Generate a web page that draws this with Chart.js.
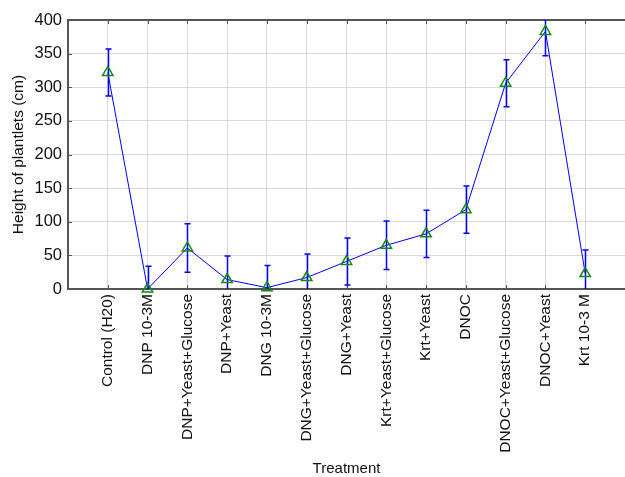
<!DOCTYPE html>
<html><head><meta charset="utf-8">
<script src="https://cdn.jsdelivr.net/npm/chart.js@4.4.1/dist/chart.umd.min.js"></script>
<style>html,body{margin:0;padding:0;background:#fff;}canvas{display:block;}</style>
</head><body>
<canvas id="c" width="625" height="477"></canvas>
<script>
// Plantlet height per treatment: mean and error-bar half width (cm)
const treatments = [
  'Control (H20)', 'DNP 10-3M', 'DNP+Yeast+Glucose', 'DNP+Yeast', 'DNG 10-3M',
  'DNG+Yeast+Glucose', 'DNG+Yeast', 'Krt+Yeast+Glucose', 'Krt+Yeast', 'DNOC',
  'DNOC+Yeast+Glucose', 'DNOC+Yeast', 'Krt 10-3 M'
];
const meanHeight = [322, 0, 61, 14, 2, 17, 41, 65, 82, 118, 306, 383, 23];
const errHeight  = [35, 34, 36, 35, 33, 35, 35, 36, 35, 35, 35, 36, 35];
const yTicks = [0, 50, 100, 150, 200, 250, 300, 350, 400];

const FONT = 'Liberation Sans, Arial, sans-serif';
const AXIS_DARK = '#555555';

const errorBars = {
  id: 'errorBars',
  beforeDatasetsDraw(chart) {
    const { ctx, chartArea: a, scales: { x, y } } = chart;
    ctx.save();
    // frame line along the top of the plot
    ctx.strokeStyle = AXIS_DARK;
    ctx.lineWidth = 2;
    ctx.beginPath();
    ctx.moveTo(a.left, a.top);
    ctx.lineTo(a.right, a.top);
    ctx.stroke();
    // small inward ticks: treatments on top and bottom, heights on the left
    ctx.lineWidth = 1;
    treatments.forEach((_, i) => {
      const px = Math.round(x.getPixelForValue(i)) + 0.5;
      ctx.beginPath();
      ctx.moveTo(px, a.top); ctx.lineTo(px, a.top + 4);
      ctx.moveTo(px, a.bottom); ctx.lineTo(px, a.bottom - 4);
      ctx.stroke();
    });
    yTicks.forEach(v => {
      const py = Math.round(y.getPixelForValue(v)) + 0.5;
      ctx.beginPath();
      ctx.moveTo(a.left, py); ctx.lineTo(a.left + 4, py);
      ctx.stroke();
    });
    // error bars, clipped to the plot
    ctx.beginPath();
    ctx.rect(a.left, a.top, a.right - a.left, a.bottom - a.top);
    ctx.clip();
    ctx.strokeStyle = '#0000ff';
    ctx.lineWidth = 1.5;
    meanHeight.forEach((v, i) => {
      const px = Math.round(x.getPixelForValue(i)) + 0.5;
      const top = y.getPixelForValue(v + errHeight[i]);
      const bot = y.getPixelForValue(v - errHeight[i]);
      ctx.beginPath();
      ctx.moveTo(px, top); ctx.lineTo(px, bot);
      ctx.moveTo(px - 3, top); ctx.lineTo(px + 3, top);
      ctx.moveTo(px - 3, bot); ctx.lineTo(px + 3, bot);
      ctx.stroke();
    });
    ctx.restore();
  }
};

const whiteBg = {
  id: 'whiteBg',
  beforeDraw(chart) {
    const { ctx, width, height } = chart;
    ctx.save();
    ctx.fillStyle = '#ffffff';
    ctx.fillRect(0, 0, width, height);
    ctx.restore();
  }
};

new Chart(document.getElementById('c'), {
  type: 'line',
  data: {
    datasets: [{
      data: meanHeight.map((v, i) => ({ x: i, y: v })),
      borderColor: '#0000ff',
      borderWidth: 1,
      pointStyle: 'triangle',
      pointRadius: 6,
      pointBorderColor: '#128a12',
      pointBackgroundColor: 'rgba(0,0,0,0)',
      pointBorderWidth: 1.5,
      tension: 0,
      clip: false
    }]
  },
  options: {
    responsive: false,
    animation: false,
    devicePixelRatio: 1,
    layout: { autoPadding: false, padding: { top: 20, right: 0, bottom: 0, left: 0 } },
    plugins: { legend: { display: false }, tooltip: { enabled: false } },
    scales: {
      x: {
        type: 'linear',
        min: -1, max: 13,
        afterBuildTicks(scale) { scale.ticks = treatments.map((_, i) => ({ value: i })); },
        afterFit(scale) { scale.height = 188; scale.paddingRight = 0; scale.paddingLeft = 0; },
        grid: { color: '#d9d9d9', lineWidth: 1, drawTicks: false },
        border: { color: AXIS_DARK, width: 2 },
        ticks: {
          autoSkip: false,
          maxRotation: 90, minRotation: 90,
          padding: 5,
          color: '#111111',
          font: { family: FONT, size: 15.5 },
          callback: (v) => treatments[v] ?? ''
        },
        title: {
          display: true, text: 'Treatment', color: '#111111',
          font: { family: FONT, size: 15 },
          padding: { top: 0, bottom: -1 }
        }
      },
      y: {
        min: 0, max: 400,
        afterBuildTicks(scale) { scale.ticks = yTicks.map(v => ({ value: v })); },
        afterFit(scale) { scale.width = 68; },
        grid: { color: '#d9d9d9', lineWidth: 1, drawTicks: false },
        border: { color: AXIS_DARK, width: 2 },
        ticks: {
          padding: 6,
          color: '#111111',
          font: { family: FONT, size: 16.5 }
        },
        title: {
          display: true, text: 'Height of plantlets (cm)', color: '#111111',
          font: { family: FONT, size: 15.5 },
          padding: { top: 9, bottom: 0 }
        }
      }
    }
  },
  plugins: [whiteBg, errorBars]
});
</script>
</body></html>
